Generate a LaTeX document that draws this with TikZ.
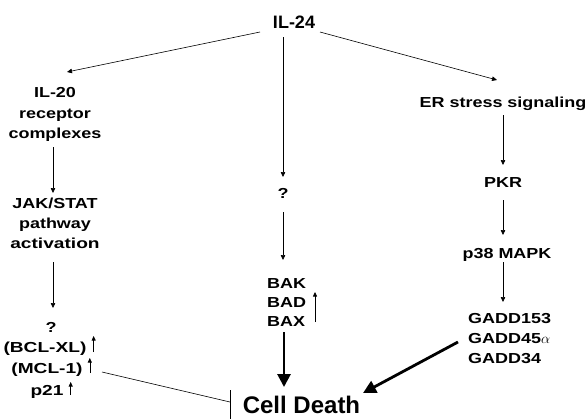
\documentclass[tikz,border=0pt]{standalone}
\usepackage{fontspec}
\setmainfont{Liberation Sans}
\newfontfamily\lblfont{Liberation Sans}[FakeStretch=1.24]
\newfontfamily\lblwide{Liberation Sans}[FakeStretch=1.32]
\usetikzlibrary{arrows.meta,calc}
\begin{document}
\begin{tikzpicture}[x=1pt,y=-1pt,
  lbl/.style={font=\lblfont\bfseries\fontsize{14.5}{20}\selectfont, inner sep=0pt, anchor=base},
  lblx/.style={font=\lblwide\bfseries\fontsize{14.5}{20}\selectfont, inner sep=0pt, anchor=base},
  lblw/.style={lbl, anchor=base west},
  arr/.style={line width=0.6pt, -{Triangle[length=5pt,width=4.5pt]}},
  bigarr/.style={line width=2.8pt, -{Triangle[length=13pt,width=13pt]}},
  uparr/.style={line width=0.6pt, -{Triangle[length=4.5pt,width=4pt]}},
  inhib/.style={line width=0.6pt},
]
\useasboundingbox (0,0) rectangle (588,418);

% top
\node[font=\bfseries\fontsize{18}{20}\selectfont, inner sep=0pt, anchor=base] (il24) at (294,28) {IL-24};

% left column
\node[lbl] (il20) at (55,97) {IL-20};
\node[lbl] (rec) at (55,118) {receptor};
\node[lbl] (cplx) at (55,138) {complexes};
\node[lbl] (jak) at (55,208) {JAK/STAT};
\node[lbl] (path) at (55,228) {pathway};
\node[lblx] (act) at (55,248) {activation};
\node[lbl] (q1) at (51,332) {?};
\node[lblx] (bcl) at (45,352) {(BCL-XL)};
\node[lblx] (mcl) at (47,373) {(MCL-1)};
\node[lblx] (p21) at (47,395) {p21};

% middle column
\node[lbl] (q2) at (283,198) {?};
\node[lblw] (bak) at (267,288) {BAK};
\node[lblw] (bad) at (267,307) {BAD};
\node[lblw] (bax) at (267,326) {BAX};

% right column
\node[lbl] (er) at (503,107) {ER stress signaling};
\node[lbl] (pkr) at (503,187) {PKR};
\node[lbl] (p38) at (507,258) {p38 MAPK};
\node[lblw] (g153) at (468,323) {GADD153};
\node[lblw] (g45) at (468,343) {GADD45$\alpha$};
\node[lblw] (g34) at (468,363) {GADD34};

% bottom
\node[font=\bfseries\fontsize{24}{26}\selectfont, inner sep=0pt, anchor=base] (cell) at (301.5,413.5) {Cell Death};

% connectors
\draw[arr] ($(il24.base)+(-34,4)$) -- ($(il20.base)+(12,-25)$);
\draw[arr] ($(il24.base)+(-11,9)$) -- ($(q2.base)+(0,-21)$);
\draw[arr] ($(il24.base)+(26,4)$) -- ($(er.base)+(-6,-27)$);

\draw[arr] ($(cplx.base)+(-2,9)$) -- ($(jak.base)+(-2,-15)$);
\draw[arr] ($(act.base)+(-2,14)$) -- ($(q1.base)+(2,-24)$);

\draw[arr] ($(q2.base)+(0,14)$) -- ($(bak.base west)+(16,-28)$);
\draw[bigarr] ($(bax.base west)+(17,6)$) -- ($(cell.base)+(-17.5,-26.5)$);
\draw[uparr] ($(bad.base west)+(48,15)$) -- ($(bad.base west)+(48,-15)$);

\draw[arr] ($(er.base)+(0,8)$) -- ($(pkr.base)+(0,-22)$);
\draw[arr] ($(pkr.base)+(0,13)$) -- ($(p38.base)+(-4,-23)$);
\draw[arr] ($(p38.base)+(-4,4)$) -- ($(g153.base west)+(35,-21)$);
\draw[bigarr] ($(g45.base west)+(-10,-1)$) -- ($(cell.base)+(61.5,-20.5)$);

% small up arrows
\draw[uparr] ($(bcl.base east)+(7,0)$) -- ($(bcl.base east)+(7,-16)$);
\draw[uparr] ($(mcl.base east)+(7,0)$) -- ($(mcl.base east)+(7,-15)$);
\draw[uparr] ($(p21.base east)+(7,0)$) -- ($(p21.base east)+(7,-13)$);

% inhibition
\draw[inhib] ($(mcl.base)+(55,-1)$) -- ($(cell.base)+(-71.5,-11.5)$);
\draw[inhib] ($(cell.base)+(-71.5,-23.5)$) -- ($(cell.base)+(-71.5,6)$);
\end{tikzpicture}
\end{document}
